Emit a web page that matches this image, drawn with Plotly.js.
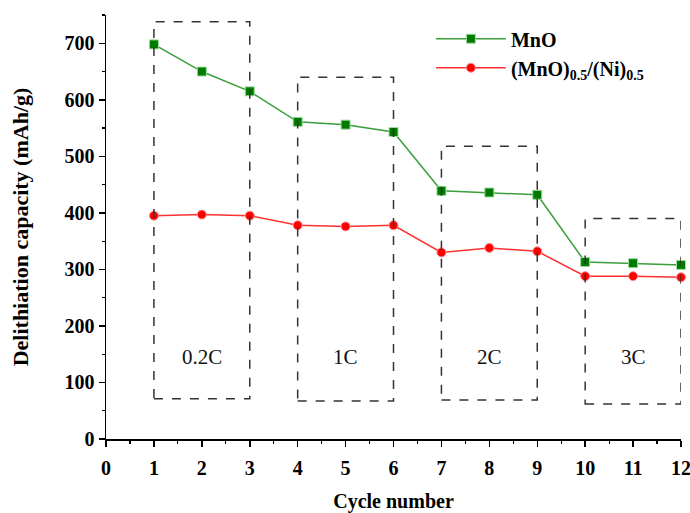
<!DOCTYPE html>
<html>
<head>
<meta charset="utf-8">
<script src="https://cdn.plot.ly/plotly-3.0.1.min.js"></script>
<style>html,body{margin:0;padding:0;background:#fff;}#chart{width:690px;height:513px;}</style>
</head>
<body>
<div id="chart"></div>
<script>
const cycles = [1, 2, 3, 4, 5, 6, 7, 8, 9, 10, 11, 12];
const mnoCapacity = [698, 650, 615, 561, 556, 543, 439, 436, 432, 313, 311, 308];
const mnoNiCapacity = [395, 397, 395, 378, 376, 378, 330, 338, 332, 288, 288, 286];
const seriesNames = ["MnO", "(MnO)<sub>0.5</sub>/(Ni)<sub>0.5</sub>"];
const rateLabels = ["0.2C", "1C", "2C", "3C"];
const rateLabelX = [2, 5, 8, 11];
const rateLabelY = [145, 145, 145, 145];
const boxX0 = [1, 4, 7, 10];
const boxX1 = [3, 6, 9, 12];
const boxY0 = [71, 67, 69, 62];
const boxY1 = [738, 640, 518, 390];

const font = "'Liberation Serif', 'Times New Roman', serif";

const traces = [
  {
    x: cycles, y: mnoCapacity, name: seriesNames[0], type: "scatter", mode: "lines+markers",
    line: {color: "#3a9e3a", width: 1.5},
    marker: {symbol: "square", size: 9, color: "#007a00", line: {color: "#9fdc9f", width: 1}},
    cliponaxis: false
  },
  {
    x: cycles, y: mnoNiCapacity, name: seriesNames[1], type: "scatter", mode: "lines+markers",
    line: {color: "#ff3030", width: 1.5},
    marker: {symbol: "circle", size: 9, color: "#ff0000", line: {color: "#ff9090", width: 1}},
    cliponaxis: false
  }
];

const shapes = boxX0.map((x0, i) => ({
  type: "rect", xref: "x", yref: "y",
  x0: x0, x1: boxX1[i], y0: boxY0[i], y1: boxY1[i],
  line: {color: "#333333", width: 1.5, dash: "dash"},
  fillcolor: "rgba(0,0,0,0)"
}));

const annotations = rateLabels.map((t, i) => ({
  x: rateLabelX[i], y: rateLabelY[i], xref: "x", yref: "y",
  text: t, showarrow: false,
  font: {family: font, size: 21, color: "#111"}
}));

const layout = {
  width: 690, height: 513,
  margin: {l: 106, r: 9, t: 15, b: 74},
  paper_bgcolor: "#fff", plot_bgcolor: "#fff",
  showlegend: true,
  legend: {
    x: 0.565, y: 0.99, xanchor: "left", yanchor: "top",
    font: {family: font, size: 20, color: "#000", weight: "bold"},
    bgcolor: "rgba(0,0,0,0)", itemwidth: 70
  },
  xaxis: {
    range: [0, 12], tickmode: "linear", tick0: 0, dtick: 1,
    ticks: "outside", ticklen: 6, tickwidth: 1.5, tickcolor: "#000",
    minor: {dtick: 0.5, ticks: "outside", ticklen: 3, tickwidth: 1.2, tickcolor: "#000"},
    showline: true, linecolor: "#000", linewidth: 1.5, showgrid: false, zeroline: false,
    ticklabelstandoff: 4, ticklabeloverflow: "allow",
    tickfont: {family: font, size: 20, color: "#000", weight: "bold"},
    title: {text: "Cycle number", font: {family: font, size: 20, color: "#000", weight: "bold"}, standoff: 20}
  },
  yaxis: {
    range: [0, 750], tickmode: "array", tickvals: [0, 100, 200, 300, 400, 500, 600, 700],
    ticks: "outside", ticklen: 6, tickwidth: 1.5, tickcolor: "#000",
    minor: {dtick: 50, tick0: 0, ticks: "outside", ticklen: 3, tickwidth: 1.2, tickcolor: "#000"},
    showline: true, linecolor: "#000", linewidth: 1.5, showgrid: false, zeroline: false,
    tickfont: {family: font, size: 20, color: "#000", weight: "bold"},
    title: {text: "Delithiation capacity (mAh/g)", font: {family: font, size: 22, color: "#000", weight: "bold"}, standoff: 30}
  },
  shapes: shapes,
  annotations: annotations
};

Plotly.newPlot("chart", traces, layout, {displayModeBar: false, staticPlot: true});
</script>
</body>
</html>
